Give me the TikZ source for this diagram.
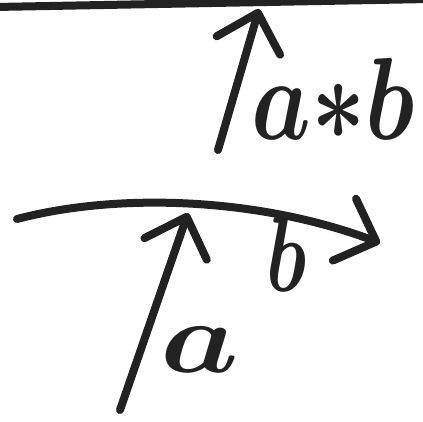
\documentclass[tikz,border=0pt]{standalone}
\usepackage{amsmath}
\usepackage{graphicx}
\usepackage{tikz}
\usetikzlibrary{arrows.meta}
\definecolor{ink}{HTML}{222222}
\tikzset{
  pen/.style={draw=ink,line width=8pt,line cap=round,line join=round},
  penarr/.style={pen,-{Straight Barb[length=34pt,width=66pt,line cap=round,line join=round]}},
  handlabel/.style={text=ink,inner sep=0pt,anchor=base west,font=\Huge\boldmath}
}

\begin{document}
\begin{tikzpicture}[x=1pt,y=-1pt]
    \useasboundingbox (0,0) rectangle (423,422);

    % upper part: the line and the arrow a*b
    \coordinate (lineL) at (-5,7);
    \coordinate (lineR) at (430,-1);
    \draw[pen,line cap=butt] (lineL) -- (lineR);

    \coordinate (prodtail) at (218,150);
    \coordinate (prodtip) at (259,9);
    \draw[penarr] (prodtail) -- (prodtip);
    \node[handlabel] (prodlbl) at (251,140) {\scalebox{3.8}[4.7]{$a{\ast}b$}};

    % lower part: the curve b and the arrow a
    \coordinate (curvestart) at (17,219);
    \coordinate (curveend) at (380,243);
    \draw[penarr] (curvestart) .. controls (120,192) and (260,198) .. (curveend);

    \coordinate (atail) at (120,410);
    \coordinate (atip) at (188,213);
    \draw[penarr] (atail) -- (atip);
    \node[handlabel] (albl) at (160,372) {\scalebox{5.0}[4.1]{$a$}};
    \node[handlabel] (blbl) at (266,291) {\scalebox{3.1}[4.3]{$b$}};
\end{tikzpicture}
\end{document}
